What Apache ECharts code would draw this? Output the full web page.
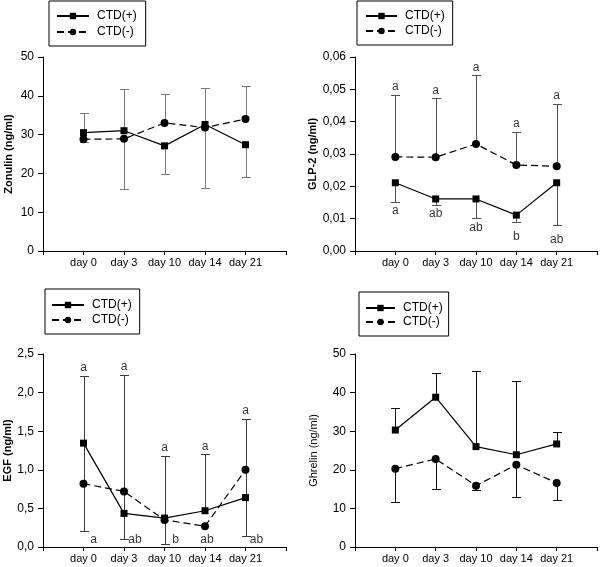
<!DOCTYPE html>
<html><head><meta charset="utf-8">
<script src="https://cdn.jsdelivr.net/npm/echarts@6/dist/echarts.min.js"></script>
<style>html,body{margin:0;padding:0;background:#fff}#c{width:600px;height:567px}</style>
</head><body><div id="c"></div>
<script>
// ---------- data ----------
const days = ['day 0', 'day 3', 'day 10', 'day 14', 'day 21'];
const seriesNames = ['CTD(+)', 'CTD(-)'];

// Zonulin (ng/ml)
const zonTicks = [0, 10, 20, 30, 40, 50];
const zonPlus = [30.5, 31.0, 27.1, 32.6, 27.4];
const zonMinus = [28.8, 28.9, 33.0, 31.8, 34.0];
const zonPlusUp = [35.5, 41.8, null, 41.9, null];
const zonPlusDn = [null, null, 19.8, null, 19.2];
const zonMinusUp = [null, null, 40.4, null, 42.4];
const zonMinusDn = [28.0, 16.0, null, 16.3, null];

// GLP-2 (ng/ml)
const glpTicks = [0, 0.01, 0.02, 0.03, 0.04, 0.05, 0.06];
const glpPlus = [0.0211, 0.0161, 0.0161, 0.0111, 0.0211];
const glpMinus = [0.0291, 0.0290, 0.0331, 0.0266, 0.0262];
const glpPlusUp = [null, null, null, null, null];
const glpPlusDn = [0.0151, 0.0142, 0.0101, 0.0091, 0.0081];
const glpMinusUp = [0.0484, 0.0472, 0.0543, 0.0368, 0.0455];
const glpMinusDn = [null, null, null, null, null];
const glpTopLetters = ['a', 'a', 'a', 'a', 'a'];
const glpBottomLetters = ['a', 'ab', 'ab', 'b', 'ab'];

// EGF (ng/ml)
const egfTicks = [0, 0.5, 1.0, 1.5, 2.0, 2.5];
const egfPlus = [1.345, 0.435, 0.375, 0.47, 0.64];
const egfMinus = [0.82, 0.72, 0.35, 0.27, 1.0];
const egfPlusUp = [2.22, null, 1.185, 1.2, null];
const egfPlusDn = [0.21, null, null, null, null];
const egfMinusUp = [null, 2.23, null, null, 1.66];
const egfMinusDn = [null, 0.11, 0.035, null, 0.14];
const egfTopLetters = ['a', 'a', 'a', 'a', 'a'];
const egfBottomLetters = ['a', 'ab', 'b', 'ab', 'ab'];

// Ghrelin (ng/ml)
const ghrTicks = [0, 10, 20, 30, 40, 50];
const ghrPlus = [30.3, 38.8, 26.0, 23.9, 26.7];
const ghrMinus = [20.3, 22.8, 15.9, 21.3, 16.6];
const ghrPlusUp = [35.9, 45.2, 45.6, 43.1, 29.7];
const ghrPlusDn = [null, null, null, null, null];
const ghrMinusUp = [null, null, null, null, null];
const ghrMinusDn = [11.6, 15.0, 14.7, 12.9, 12.2];

// ---------- layout (not data) ----------
const FONT = '"Liberation Sans", Arial, sans-serif';
const glpLowGap = [3, 3, 3, 9, 9];
const egfLowDx = [10, 11, 11, 2, 11];

const panels = [
  { name: 'Zonulin (ng/ml)', bold: true, ticks: zonTicks, dec: 0, nameGap: 29, errColor: '#7a7a7a',
    grid: { left: 43, top: 57, width: 243, height: 194 },
    legend: { left: 49, top: 1, iw: 32, pad: [8, 9, 7, 7], gap: 2, fs: 12 },
    plus: zonPlus, minus: zonMinus, pu: zonPlusUp, pd: zonPlusDn, mu: zonMinusUp, md: zonMinusDn },
  { name: 'GLP-2 (ng/ml)', bold: true, ticks: glpTicks, dec: 2, nameGap: 36, errColor: '#505050',
    grid: { left: 355, top: 57, width: 243, height: 194 },
    legend: { left: 357, top: 1, iw: 31, pad: [8, 8, 7, 8], gap: 1, fs: 12 },
    plus: glpPlus, minus: glpMinus, pu: glpPlusUp, pd: glpPlusDn, mu: glpMinusUp, md: glpMinusDn },
  { name: 'EGF (ng/ml)', bold: true, ticks: egfTicks, dec: 1, nameGap: 30, errColor: '#3a3a3a',
    grid: { left: 43, top: 354, width: 243, height: 193 },
    legend: { left: 45, top: 289, iw: 32, pad: [9, 8, 7, 6], gap: 1, fs: 12 },
    plus: egfPlus, minus: egfMinus, pu: egfPlusUp, pd: egfPlusDn, mu: egfMinusUp, md: egfMinusDn },
  { name: 'Ghrelin (ng/ml)', bold: false, ticks: ghrTicks, dec: 0, nameGap: 36, errColor: '#111',
    grid: { left: 355, top: 354, width: 243, height: 193 },
    legend: { left: 359, top: 292, iw: 29, pad: [9, 6, 7, 6], gap: 0, fs: 12 },
    plus: ghrPlus, minus: ghrMinus, pu: ghrPlusUp, pd: ghrPlusDn, mu: ghrMinusUp, md: ghrMinusDn }
];

function errRender(params, api) {
  const x = api.value(0), a = api.value(1), b = api.value(2);
  const p1 = api.coord([x, a]), p2 = api.coord([x, b]);
  const cx = Math.round(p1[0]) + 0.5;
  const y2 = Math.round(p2[1]) + 0.5;
  const hw = 4.5;
  const style = { stroke: api.visual('color'), lineWidth: 1, fill: null };
  return { type: 'group', children: [
    { type: 'line', shape: { x1: cx, y1: p1[1], x2: cx, y2: y2 }, style: style },
    { type: 'line', shape: { x1: cx - hw, y1: y2, x2: cx + hw, y2: y2 }, style: style }
  ]};
}

const option = { animation: false, backgroundColor: '#fff', grid: [], xAxis: [], yAxis: [], legend: [], series: [] };

panels.forEach((p, k) => {
  option.grid.push(Object.assign({ containLabel: false }, p.grid));
  option.xAxis.push({
    type: 'value', gridIndex: k, min: -1, max: 5, interval: 1,
    axisLine: { onZero: false, lineStyle: { color: '#000', width: 1 } },
    axisTick: { show: true, length: 4, lineStyle: { color: '#000' } },
    splitLine: { show: false },
    axisLabel: { margin: 6, fontSize: 11, color: '#000', fontFamily: FONT,
      formatter: v => (v >= 0 && v < days.length) ? days[v] : '' }
  });
  const t = p.ticks;
  option.yAxis.push({
    type: 'value', gridIndex: k, min: t[0], max: t[t.length - 1], interval: t[1] - t[0],
    name: p.name, nameLocation: 'middle', nameGap: p.nameGap,
    nameTextStyle: { fontSize: 11, fontWeight: p.bold ? 'bold' : 'normal', color: '#000', fontFamily: FONT },
    axisLine: { show: true, onZero: false, lineStyle: { color: '#000', width: 1 } },
    axisTick: { show: true, length: 5, lineStyle: { color: '#000' } },
    splitLine: { show: false },
    axisLabel: { margin: 9, fontSize: 12, color: '#000', fontFamily: FONT,
      formatter: v => v.toFixed(p.dec).replace('.', ',') }
  });
  const L = p.legend;
  option.legend.push({
    left: L.left, top: L.top, orient: 'vertical', data: seriesNames,
    selectedMode: false, itemWidth: L.iw, itemHeight: 8, itemGap: L.gap,
    padding: L.pad, borderColor: '#000', borderWidth: 1, backgroundColor: '#fff',
    textStyle: { fontSize: L.fs, color: '#000', fontFamily: FONT, lineHeight: 14, padding: [0, 0, 0, 3] }
  });

  // error bars
  const err = [];
  [[p.plus, p.pu], [p.plus, p.pd], [p.minus, p.mu], [p.minus, p.md]].forEach(([vals, ends]) => {
    ends.forEach((e, i) => { if (e !== null) err.push([i, vals[i], e]); });
  });
  option.series.push({
    type: 'custom', name: 'err' + k, xAxisIndex: k, yAxisIndex: k, renderItem: errRender,
    itemStyle: { color: p.errColor }, encode: { x: 0, y: [1, 2] }, data: err, z: 1, silent: true
  });

  option.series.push({
    type: 'line', name: seriesNames[0], xAxisIndex: k, yAxisIndex: k,
    data: p.plus.map((v, i) => [i, v]), symbol: 'rect', symbolSize: 7,
    itemStyle: { color: '#000' }, lineStyle: { color: '#000', width: 1.2, type: 'solid' }, z: 3, silent: true
  });
  option.series.push({
    type: 'line', name: seriesNames[1], xAxisIndex: k, yAxisIndex: k,
    data: p.minus.map((v, i) => [i, v]), symbol: 'circle', symbolSize: 8,
    itemStyle: { color: '#000' }, lineStyle: { color: '#000', width: 1.2, type: [7, 4] }, z: 3, silent: true
  });
});

// significance letters
function topOf(arrs, i) {
  let m = -Infinity;
  arrs.forEach(a => { if (a[i] !== null && a[i] > m) m = a[i]; });
  return m;
}
const letterStyle = { show: true, fontSize: 12, color: '#000', fontFamily: FONT };
function letterSeries(k, items) {
  return { type: 'scatter', xAxisIndex: k, yAxisIndex: k, symbolSize: 0, silent: true, z: 5, data: items };
}
// GLP-2
option.series.push(letterSeries(1, glpTopLetters.map((l, i) => ({
  value: [i, topOf([glpMinusUp, glpPlusUp], i)], name: l,
  label: Object.assign({ position: 'top', distance: 2, formatter: l }, letterStyle) }))));
option.series.push(letterSeries(1, glpBottomLetters.map((l, i) => ({
  value: [i, glpPlusDn[i]], name: l,
  label: Object.assign({ position: 'bottom', distance: glpLowGap[i], formatter: l }, letterStyle) }))));
// EGF
option.series.push(letterSeries(2, egfTopLetters.map((l, i) => ({
  value: [i, topOf([egfPlusUp, egfMinusUp], i)], name: l,
  label: Object.assign({ position: 'top', distance: 2, formatter: l }, letterStyle) }))));
option.series.push(letterSeries(2, egfBottomLetters.map((l, i) => ({
  value: [i, egfTicks[0]], name: l,
  label: Object.assign({ position: 'inside', offset: [egfLowDx[i], -7], formatter: l }, letterStyle) }))));

const chart = echarts.init(document.getElementById('c'), null, { renderer: 'canvas' });
chart.setOption(option);
</script>
</body></html>
